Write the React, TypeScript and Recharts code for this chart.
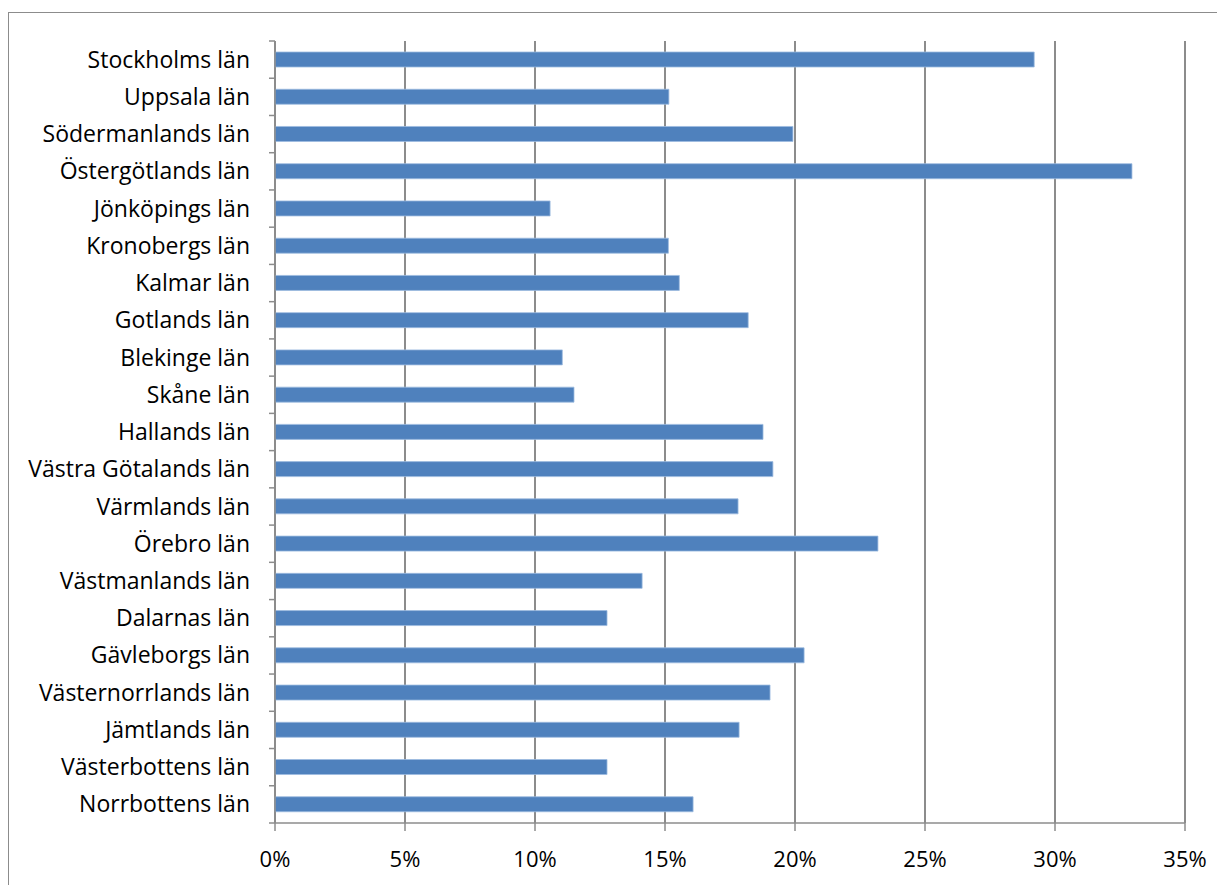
import { Bar, BarChart, CartesianGrid, XAxis, YAxis } from "recharts";

const COUNTIES = [
  "Stockholms län",
  "Uppsala län",
  "Södermanlands län",
  "Östergötlands län",
  "Jönköpings län",
  "Kronobergs län",
  "Kalmar län",
  "Gotlands län",
  "Blekinge län",
  "Skåne län",
  "Hallands län",
  "Västra Götalands län",
  "Värmlands län",
  "Örebro län",
  "Västmanlands län",
  "Dalarnas län",
  "Gävleborgs län",
  "Västernorrlands län",
  "Jämtlands län",
  "Västerbottens län",
  "Norrbottens län",
];

const SHARES = [
  0.292, 0.1515, 0.1992, 0.3296, 0.1058, 0.1513, 0.1555, 0.182, 0.1105, 0.115,
  0.1877, 0.1915, 0.1781, 0.2319, 0.1412, 0.1277, 0.2035, 0.1904, 0.1785,
  0.1277, 0.1608,
];

const X_TICKS = [0, 0.05, 0.1, 0.15, 0.2, 0.25, 0.3, 0.35];

const data = COUNTIES.map((name, i) => ({ name, value: SHARES[i] }));

const FONT = "'Open Sans', Lato, sans-serif";
const AXIS = "#8c8c8c";
const BLUE = "#4f81bd";

const PLOT_H = 782;
const BAND = PLOT_H / COUNTIES.length;

// label plus the small tick marks that sit on band boundaries (Excel style)
function CountyTick(props: any) {
  const { x, y, payload, index } = props;
  const ax = x + 25;
  return (
    <g>
      <line x1={ax - 6} x2={ax} y1={y - BAND / 2} y2={y - BAND / 2} stroke={AXIS} strokeWidth={1.5} />
      {index === COUNTIES.length - 1 && (
        <line x1={ax - 6} x2={ax} y1={y + BAND / 2} y2={y + BAND / 2} stroke={AXIS} strokeWidth={1.5} />
      )}
      <text
        x={x}
        y={y}
        dy="0.35em"
        textAnchor="end"
        fontFamily={FONT}
        fontSize={23}
        fill="#000"
      >
        {payload.value}
      </text>
    </g>
  );
}

export default function App() {
  return (
    <div
      style={{
        marginTop: 4,
        width: 1210,
        height: 880,
        border: "1.5px solid #8c8c8c",
        background: "#fff",
      }}
    >
      <BarChart
        width={1210}
        height={880}
        data={data}
        layout="vertical"
        margin={{ top: 28, right: 34, left: 0, bottom: 30 }}
        barSize={15}
      >
        <CartesianGrid horizontal={false} stroke={AXIS} strokeWidth={2} />
        <XAxis
          type="number"
          domain={[0, 0.35]}
          ticks={X_TICKS}
          interval={0}
          height={40}
          tickFormatter={(v: number) => `${Math.round(v * 100)}%`}
          tick={{ fontFamily: FONT, fontSize: 22, fill: "#000" }}
          tickSize={8}
          tickMargin={20}
          stroke={AXIS}
          strokeWidth={1.5}
        />
        <YAxis
          type="category"
          dataKey="name"
          width={266}
          interval={0}
          tickLine={false}
          tickSize={0}
          tickMargin={25}
          tick={<CountyTick />}
          stroke={AXIS}
          strokeWidth={1.5}
        />
        <Bar
          dataKey="value"
          fill={BLUE}
          stroke="#9dbbe0"
          strokeWidth={0.8}
          isAnimationActive={false}
        />
      </BarChart>
    </div>
  );
}
